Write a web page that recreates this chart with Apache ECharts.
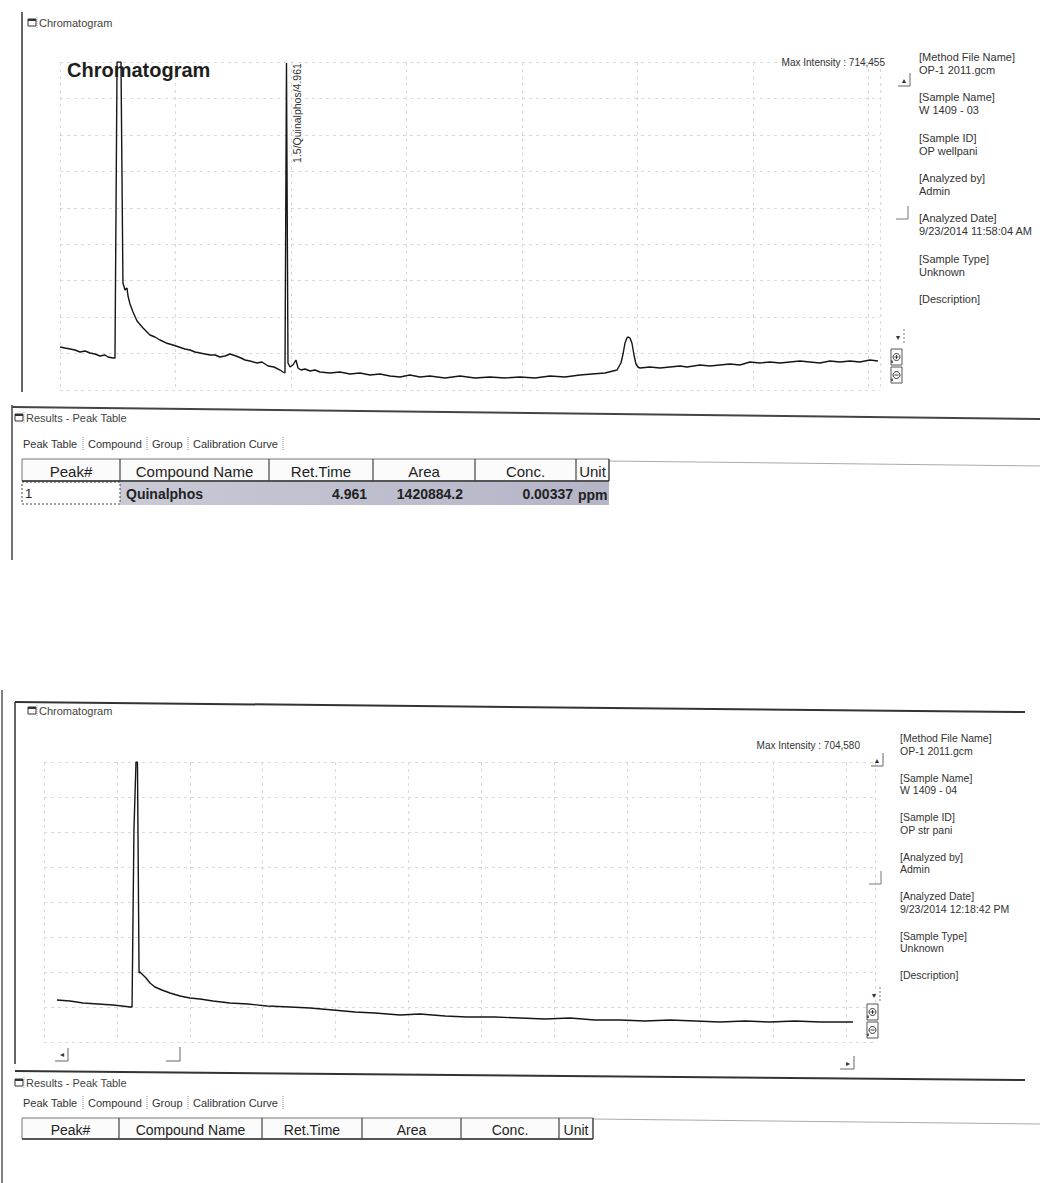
<!DOCTYPE html>
<html>
<head>
<meta charset="utf-8">
<title>Chromatogram</title>
<script src="https://cdn.jsdelivr.net/npm/echarts@6/dist/echarts.min.js"></script>
<style>
html, body { margin: 0; padding: 0; background: #fff; }
#main { width: 1040px; height: 1183px; }
</style>
</head>
<body>
<div id="main"></div>
<script>
// ---- run 1 : W 1409 - 03 (time in min, intensity) ----
var timeTop = [
	3.000, 3.043, 3.087, 3.130, 3.173, 3.217, 3.260, 3.303, 3.346, 3.390,
	3.416, 3.459, 3.476, 3.494, 3.528, 3.545, 3.563, 3.580, 3.589, 3.606,
	3.632, 3.667, 3.719, 3.779, 3.822, 3.866, 3.918, 3.978, 4.030, 4.082,
	4.126, 4.169, 4.212, 4.255, 4.299, 4.342, 4.385, 4.429, 4.472, 4.524,
	4.567, 4.602, 4.645, 4.706, 4.749, 4.801, 4.853, 4.905, 4.931, 4.948,
	4.961, 4.974, 4.992, 5.017, 5.043, 5.061, 5.087, 5.121, 5.165, 5.208,
	5.251, 5.338, 5.424, 5.511, 5.597, 5.684, 5.771, 5.857, 5.944, 6.030,
	6.117, 6.203, 6.333, 6.463, 6.593, 6.723, 6.853, 6.983, 7.113, 7.242,
	7.372, 7.502, 7.606, 7.719, 7.788, 7.823, 7.857, 7.875, 7.892, 7.909,
	7.918, 7.935, 7.952, 7.970, 7.987, 8.004, 8.022, 8.108, 8.195, 8.281,
	8.368, 8.429, 8.541, 8.628, 8.714, 8.801, 8.887, 8.974, 9.061, 9.147,
	9.234, 9.320, 9.407, 9.493, 9.580, 9.667, 9.753, 9.840, 9.926, 10.013,
	10.082
];
var intensityTop = [
	93660, 91480, 89300, 87120, 82770, 84950, 80590, 78410, 74060, 76240,
	71880, 69700, 69700, 714455, 714455, 233070, 217820, 222180, 204750, 187320,
	169900, 150300, 134990, 119800, 115450, 108910, 102380, 98020, 93660, 89310,
	87120, 82770, 80590, 78410, 76240, 76240, 71880, 74060, 78410, 74060,
	69700, 65350, 63170, 58810, 60990, 52280, 50100, 43560, 39210, 37030,
	712000, 58810, 50100, 54460, 65350, 47920, 43560, 45740, 41390, 43560,
	39210, 37030, 39210, 34850, 37030, 32670, 34850, 30490, 28320, 32670,
	28320, 30490, 26140, 30490, 26140, 28320, 26140, 28320, 26140, 30490,
	28320, 32670, 34850, 37030, 41390, 43560, 58810, 78410, 102380, 113270,
	115450, 113270, 102380, 76240, 56640, 50100, 47920, 50100, 47920, 50100,
	52280, 50100, 54460, 52280, 54460, 56640, 54460, 60990, 58810, 60990,
	58810, 60990, 63170, 60990, 58810, 63170, 60990, 63170, 60990, 65350,
	63170
];
var maxIntensityTop = 714455;
var quinalphosTime = 4.961;
var quinalphosTop = 712000;
var peakLabel = '1.5/Quinalphos/4.961';

// ---- run 2 : W 1409 - 04 ----
var timeBottom = [
	3.089, 3.178, 3.268, 3.370, 3.473, 3.535, 3.590, 3.604, 3.617, 3.631,
	3.641, 3.652, 3.658, 3.679, 3.700, 3.727, 3.761, 3.809, 3.864, 3.933,
	4.001, 4.070, 4.159, 4.276, 4.399, 4.530, 4.687, 4.825, 4.982, 5.133,
	5.270, 5.442, 5.579, 5.751, 5.901, 6.093, 6.265, 6.436, 6.608, 6.779,
	6.951, 7.122, 7.294, 7.465, 7.637, 7.808, 7.980, 8.151, 8.323, 8.460,
	8.549
];
var intensityBottom = [
	105690, 103170, 98140, 95620, 93110, 90590, 88070, 88070, 533480, 704580,
	704580, 173630, 176150, 168600, 161050, 148470, 138400, 130850, 123300, 115750,
	110720, 108200, 103170, 98140, 95620, 90590, 88070, 85560, 80520, 75490,
	72980, 67940, 70460, 65430, 62910, 62910, 60390, 57880, 60390, 55360,
	55360, 52840, 55360, 52840, 50330, 52840, 50330, 52840, 50330, 50330,
	50330
];
var maxIntensityBottom = 704580;

// ---- sample info ----
var infoLabels = ['[Method File Name]', '[Sample Name]', '[Sample ID]', '[Analyzed by]', '[Analyzed Date]', '[Sample Type]', '[Description]'];
var infoTop = ['OP-1 2011.gcm', 'W 1409 - 03', 'OP wellpani', 'Admin', '9/23/2014 11:58:04 AM', 'Unknown', ''];
var infoBottom = ['OP-1 2011.gcm', 'W 1409 - 04', 'OP str pani', 'Admin', '9/23/2014 12:18:42 PM', 'Unknown', ''];

// ---- peak table ----
var tableHeaders = ['Peak#', 'Compound Name', 'Ret.Time', 'Area', 'Conc.', 'Unit'];
var peakRowTop = ['1', 'Quinalphos', '4.961', '1420884.2', '0.00337', 'ppm'];
var tabNames = ['Peak Table', 'Compound', 'Group', 'Calibration Curve'];

function zip(xs, ys) {
	var out = [];
	for (var i = 0; i < xs.length; i++) out.push([xs[i], ys[i]]);
	return out;
}

var FONT = '"Liberation Sans", Arial, "DejaVu Sans", sans-serif';
var GRIDLINE = { show: true, lineStyle: { color: '#d9d9d9', type: [3, 4], width: 1 } };

function hiddenAxis(extra) {
	var a = {
		type: 'value',
		axisLine: { show: false },
		axisTick: { show: false },
		axisLabel: { show: false },
		splitLine: GRIDLINE
	};
	for (var k in extra) a[k] = extra[k];
	return a;
}

var chart = echarts.init(document.getElementById('main'), null, { renderer: 'svg' });

var option = {
	backgroundColor: '#ffffff',
	animation: false,
	grid: [
		{ left: 60, top: 62, width: 820, height: 328 },
		{ left: 44, top: 762, width: 831, height: 280 }
	],
	xAxis: [
		hiddenAxis({ gridIndex: 0, min: 3, max: 10.1, interval: 1 }),
		hiddenAxis({ gridIndex: 1, min: 3, max: 8.7, interval: 0.5 })
	],
	yAxis: [
		hiddenAxis({ gridIndex: 0, min: 0, max: maxIntensityTop, interval: maxIntensityTop / 9 }),
		hiddenAxis({ gridIndex: 1, min: 0, max: maxIntensityBottom, interval: maxIntensityBottom / 8 })
	],
	series: [
		{
			name: 'W 1409 - 03',
			type: 'line',
			xAxisIndex: 0,
			yAxisIndex: 0,
			data: zip(timeTop, intensityTop),
			symbol: 'none',
			lineStyle: { color: '#161616', width: 1.4 },
			clip: true
		},
		{
			name: 'W 1409 - 04',
			type: 'line',
			xAxisIndex: 1,
			yAxisIndex: 1,
			data: zip(timeBottom, intensityBottom),
			symbol: 'none',
			lineStyle: { color: '#161616', width: 1.4 },
			clip: true
		}
	]
};
chart.setOption(option);

//--- graphic helpers ---
function txt(x, y, s, size, o) {
	o = o || {};
	return {
		type: 'text', x: x, y: y, rotation: o.rotation || 0, silent: true, z: 10,
		style: {
			text: s, fill: o.color || '#2b2b2b', fontSize: size, fontFamily: FONT,
			fontWeight: o.weight || 'normal', align: o.align || 'left', verticalAlign: 'middle'
		}
	};
}
function ln(x1, y1, x2, y2, c, w, dash) {
	return {
		type: 'line', silent: true, z: 5,
		shape: { x1: x1, y1: y1, x2: x2, y2: y2 },
		style: { stroke: c || '#333', lineWidth: w || 1, lineDash: dash || null }
	};
}
function box(x, y, w, h, fill, stroke, lw, dash) {
	return {
		type: 'rect', silent: true, z: 4,
		shape: { x: x, y: y, width: w, height: h },
		style: { fill: fill || 'none', stroke: stroke || null, lineWidth: lw || 1, lineDash: dash || null }
	};
}
function pl(points, c, w) {
	return {
		type: 'polyline', silent: true, z: 5,
		shape: { points: points },
		style: { stroke: c || '#555', lineWidth: w || 1, fill: 'none' }
	};
}

// small window caption: icon + label
function caption(x, y, label) {
	return [
		box(x, y - 4, 8, 7, '#fff', '#333', 1),
		ln(x, y - 3, x + 8, y - 3, '#333', 2),
		ln(x + 9, y - 6, x + 9, y + 6, '#999', 1, [1, 1]),
		txt(x + 11, y, label, 11, { color: '#444' })
	];
}

function infoBlock(x, y0, step, dy, values, size) {
	var out = [];
	for (var i = 0; i < infoLabels.length; i++) {
		out.push(txt(x, y0 + i * step, infoLabels[i], size, { color: '#333' }));
		if (values[i]) out.push(txt(x, y0 + i * step + dy, values[i], size, { color: '#333' }));
	}
	return out;
}

function upBtn(x, y) {
	return [txt(x, y, '\u25B2', 7, { align: 'center', color: '#333' }), pl([[x - 6, y + 6], [x + 6, y + 6], [x + 6, y - 7]], '#666')];
}
function downBtn(x, y) {
	return [txt(x, y, '\u25BC', 7, { align: 'center', color: '#333' }), ln(x + 6, y - 8, x + 6, y + 8, '#777', 1, [2, 2])];
}
function corner(x, y) {
	return [pl([[x - 12, y], [x, y], [x, y - 13]], '#777')];
}
function magBtns(x, y) {
	var out = [];
	for (var i = 0; i < 2; i++) {
		var cy = y + i * 18 + 8;
		out.push(box(x, y + i * 18, 11, 16, '#fff', '#555', 1));
		out.push({ type: 'circle', silent: true, z: 6, shape: { cx: x + 5.5, cy: cy, r: 3.5 }, style: { fill: 'none', stroke: '#333', lineWidth: 1 } });
		out.push(ln(x + 3.5, cy, x + 7.5, cy, '#333', 1));
		if (i === 0) out.push(ln(x + 5.5, cy - 2, x + 5.5, cy + 2, '#333', 1));
		out.push(ln(x + 1, cy + 3.5, x + 1, cy + 6, '#333', 1.5));
	}
	return out;
}

function tabs(y) {
	var xs = [23, 88, 152, 193];
	var seps = [83, 147, 188, 283];
	var out = [];
	for (var i = 0; i < tabNames.length; i++) {
		out.push(txt(xs[i], y, tabNames[i], 11, { color: '#333' }));
		out.push(ln(seps[i], y - 7, seps[i], y + 7, '#888', 1, [1, 1]));
	}
	return out;
}

function table(cols, y0, hh, size, row) {
	var out = [];
	var x0 = cols[0], x1 = cols[cols.length - 1];
	out.push(box(x0, y0, x1 - x0, hh, '#fbfbfb', '#777', 1));
	out.push(ln(x0, y0 + hh, x1, y0 + hh, '#333', 1.5));
	for (var i = 0; i < tableHeaders.length; i++) {
		out.push(ln(cols[i + 1], y0, cols[i + 1], y0 + hh, '#444', 1.2));
		out.push(txt((cols[i] + cols[i + 1]) / 2, y0 + hh / 2 + 1, tableHeaders[i], size, { align: 'center', color: '#222' }));
	}
	if (row) {
		var ry = y0 + hh + 1, rh = 23, cy = ry + rh / 2;
		out.push({
			type: 'rect', silent: true, z: 3,
			shape: { x: cols[1], y: ry, width: cols[6] - cols[1], height: rh },
			style: {
				fill: new echarts.graphic.LinearGradient(0, 0, 1, 0, [
					{ offset: 0, color: '#c9cad6' }, { offset: 1, color: '#b3b4c6' }
				])
			}
		});
		out.push(box(x0, ry, cols[1] - x0, rh - 1, 'none', '#444', 1, [2, 2]));
		out.push(txt(x0 + 3, cy, row[0], 13, { color: '#222' }));
		out.push(txt(cols[1] + 6, cy, row[1], 14, { weight: 'bold', color: '#222' }));
		out.push(txt(cols[3] - 6, cy, row[2], 14, { weight: 'bold', align: 'right', color: '#222' }));
		out.push(txt(cols[4] - 12, cy, row[3], 14, { weight: 'bold', align: 'right', color: '#222' }));
		out.push(txt(cols[5] - 3, cy, row[4], 14, { weight: 'bold', align: 'right', color: '#222' }));
		out.push(txt(cols[5] + 2, cy + 1, row[5], 14, { weight: 'bold', color: '#222' }));
	}
	return out;
}

var g = [];
//--- top chromatogram window ---
g.push(ln(22, 12, 22, 392, '#333', 1.5));
g = g.concat(caption(28, 23, 'Chromatogram'));
g.push(txt(67, 70, 'Chromatogram', 20, { weight: 'bold', color: '#1e1e1e' }));
g.push(txt(885, 62, 'Max Intensity : ' + maxIntensityTop.toLocaleString('en-US'), 10, { align: 'right', color: '#333' }));
g = g.concat(infoBlock(919, 57, 40.3, 13, infoTop, 11));
g = g.concat(upBtn(904, 80));
g = g.concat(corner(908, 219));
g = g.concat(downBtn(898, 337));
g = g.concat(magBtns(891, 349));

var pk = chart.convertToPixel({ seriesIndex: 0 }, [quinalphosTime, quinalphosTop]);
g.push(txt(pk[0] + 11, pk[1], peakLabel, 10.5, { rotation: Math.PI / 2, align: 'right', color: '#333' }));

//--- top results panel ---
g.push(ln(12, 405, 12, 560, '#444', 1.5));
g.push(ln(12, 407, 1040, 419, '#444', 2));
g = g.concat(caption(15, 418, 'Results - Peak Table'));
g = g.concat(tabs(444));
g.push(ln(609, 461, 1040, 466, '#aaa', 1));
g = g.concat(table([22, 120, 269, 373, 475, 576, 609], 459, 22, 15, peakRowTop));

//--- bottom chromatogram window ---
g.push(ln(2, 690, 2, 1183, '#555', 1.5));
g.push(ln(15, 702, 1025, 712, '#333', 2));
g.push(ln(15, 702, 15, 1064, '#333', 1.5));
g = g.concat(caption(28, 711, 'Chromatogram'));
g.push(txt(860, 745, 'Max Intensity : ' + maxIntensityBottom.toLocaleString('en-US'), 10, { align: 'right', color: '#333' }));
g = g.concat(infoBlock(900, 738, 39.5, 12.5, infoBottom, 10.5));
g = g.concat(upBtn(877, 760));
g = g.concat(corner(881, 884));
g = g.concat(downBtn(874, 995));
g = g.concat(magBtns(867, 1004));
g.push(txt(62, 1054, '\u25C2', 8, { align: 'center', color: '#333' }));
g.push(pl([[55, 1061], [68, 1061], [68, 1048]], '#666'));
g.push(pl([[166, 1061], [180, 1061], [180, 1047]], '#666'));
g.push(txt(848, 1063, '\u25B8', 8, { align: 'center', color: '#333' }));
g.push(pl([[840, 1069], [854, 1069], [854, 1056]], '#666'));
g.push(ln(15, 1071, 1025, 1080, '#333', 2));

//--- bottom results panel ---
g = g.concat(caption(15, 1083, 'Results - Peak Table'));
g = g.concat(tabs(1103));
g.push(ln(593, 1119, 1040, 1124, '#aaa', 1));
g = g.concat(table([22, 119, 262, 362, 461, 559, 593], 1118, 21, 14, null));

chart.setOption({ graphic: { elements: g } });
</script>
</body>
</html>
